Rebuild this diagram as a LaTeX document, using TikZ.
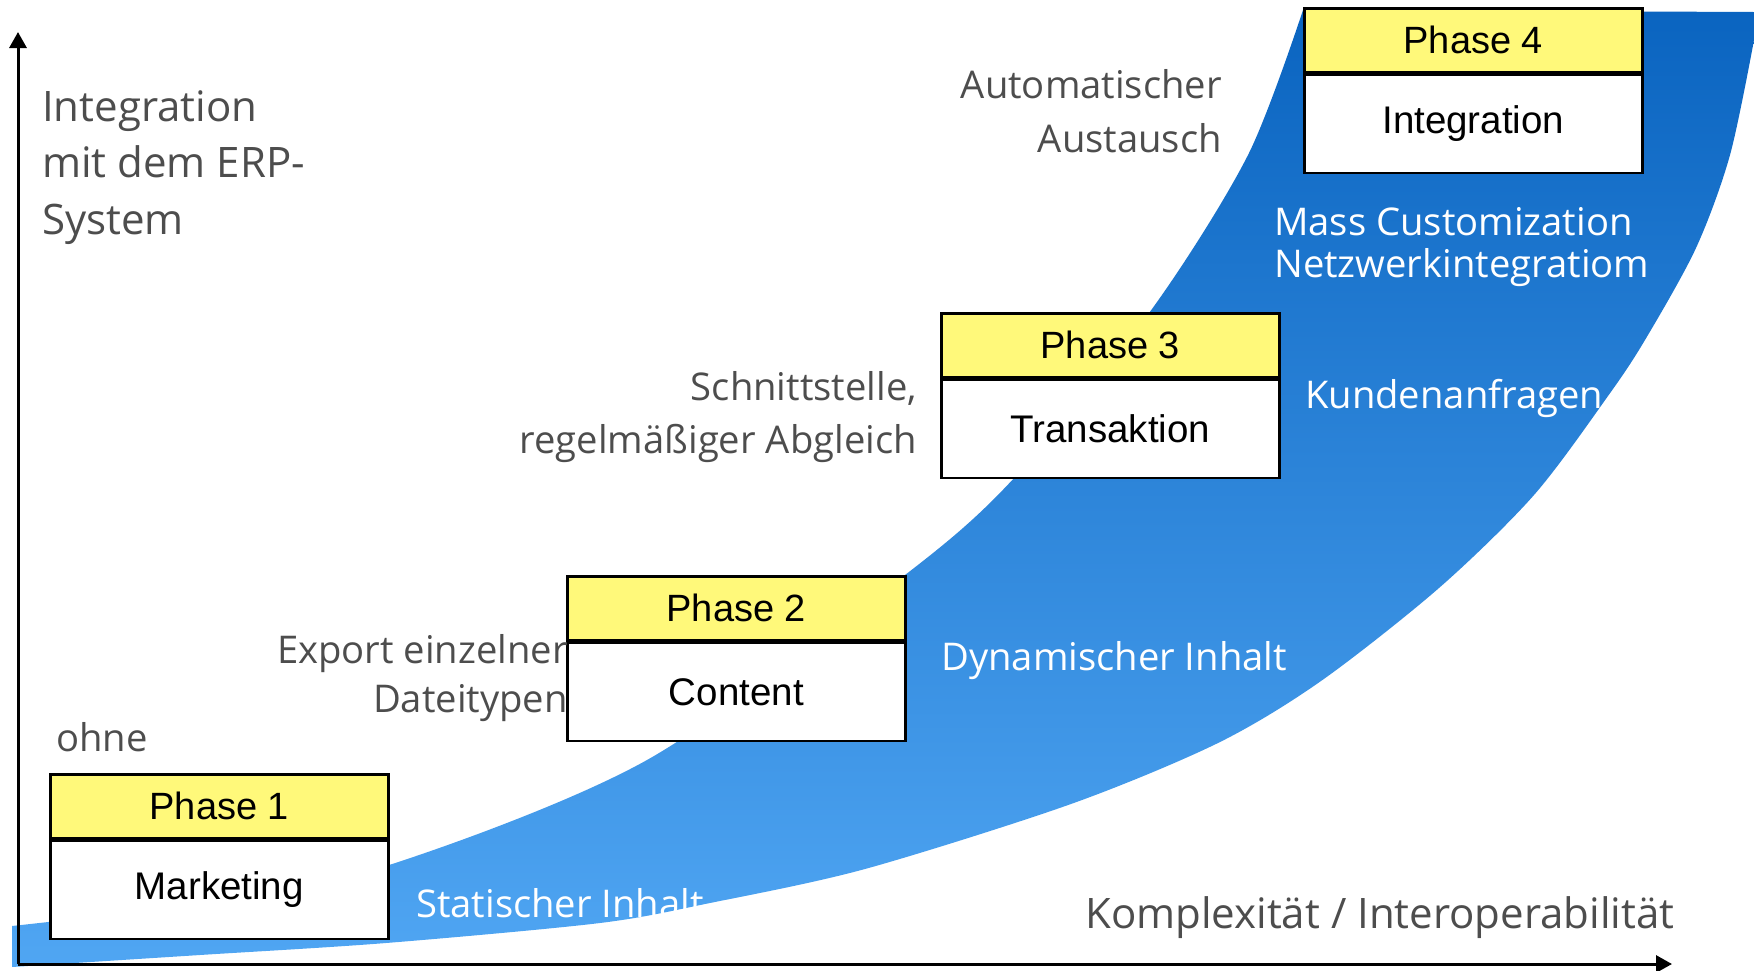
\documentclass[tikz,border=0pt]{standalone}
\usepackage{fontspec}
\usetikzlibrary{arrows.meta,positioning}
\newfontfamily\labelfont{Open Sans}
\newfontfamily\boxfont{Liberation Sans}
\definecolor{labelgray}{RGB}{77,77,77}
\definecolor{phaseyellow}{RGB}{255,249,122}
\definecolor{blueTop}{RGB}{10,100,192}
\definecolor{blueBottom}{RGB}{80,166,243}
\tikzset{
  axisline/.style={line width=3pt, -{Triangle[width=17pt,length=16pt]}},
  phasehead/.style={draw, line width=2.6pt, fill=phaseyellow, minimum width=338pt,
    minimum height=64pt, inner sep=0pt, anchor=north west,
    font=\boxfont\fontsize{38}{40}\selectfont},
  phasebody/.style={draw, line width=2.6pt, fill=white, minimum width=338pt,
    minimum height=98pt, inner sep=0pt, anchor=north,
    font=\boxfont\fontsize{38.5}{40}\selectfont},
  graylabel/.style={inner sep=0pt, text=labelgray, font=\labelfont\fontsize{38.2}{50}\selectfont},
  whitelabel/.style={inner sep=0pt, text=white, font=\labelfont\fontsize{38.2}{50}\selectfont},
  axislabel/.style={inner sep=0pt, text=labelgray, font=\labelfont\fontsize{42}{57}\selectfont},
}
\begin{document}
\begin{tikzpicture}[x=1pt,y=-1pt]
\useasboundingbox (0,0) rectangle (1754,970);

% rising band of growing integration
\shade[top color=blueTop, bottom color=blueBottom]
  plot[smooth, tension=0.5] coordinates {(12,926) (200,903) (386,866) (647,760)
      (905,575) (1016,476) (1152,309) (1248,155) (1303,10)}
  -- (1754,12)
  -- plot[smooth, tension=0.5] coordinates {(1754,40) (1730,155) (1696,248)
      (1645,340) (1608,396) (1534,495) (1439,588) (1321,681) (1218,743)
      (1071,804) (865,869) (710,903) (600,923) (386,943) (200,955) (12,967)}
  -- cycle;

% axes
\coordinate (origin) at (18,964);
\coordinate (ytip) at (18,32);
\coordinate (xtip) at (1672,964);
\draw[axisline] (origin) -- (ytip);
\draw[axisline] (origin) -- (xtip);

% axis labels
\node[axislabel, anchor=base west] (ylab1) at (42,121) {Integration};
\node[axislabel, anchor=base west] (ylab2) at (42,177) {mit dem ERP-};
\node[axislabel, anchor=base west] (ylab3) at (42,234) {System};
\node[axislabel, anchor=base west] (xlab) at (1085,928) {Komplexität / Interoperabilität};

% phase boxes
\node[phasehead] (p1) at (49,773) {Phase 1};
\node[phasebody] (b1) at (p1.south) {Marketing};
\node[phasehead] (p2) at (566,575) {Phase 2};
\node[phasebody] (b2) at (p2.south) {Content};
\node[phasehead] (p3) at (940,312) {Phase 3};
\node[phasebody] (b3) at (p3.south) {Transaktion};
\node[phasehead] (p4) at (1303,7) {Phase 4};
\node[phasebody] (b4) at (p4.south) {Integration};

% degree of integration, left of each phase
\node[graylabel, anchor=base west] (i1) at (56,751) {ohne};
\node[graylabel, anchor=base east] (i2a) at (568,663) {Export einzelner};
\node[graylabel, anchor=base east] (i2b) at (568,712) {Dateitypen};
\node[graylabel, anchor=base east] (i3a) at (917,400) {Schnittstelle,};
\node[graylabel, anchor=base east] (i3b) at (917,453) {regelmäßiger Abgleich};
\node[graylabel, anchor=base east] (i4a) at (1222,98) {Automatischer};
\node[graylabel, anchor=base east] (i4b) at (1222,152) {Austausch};

% content of each phase, on the band
\node[whitelabel, anchor=base west] (c1) at (416,917) {Statischer Inhalt};
\node[whitelabel, anchor=base west] (c2) at (941,670) {Dynamischer Inhalt};
\node[whitelabel, anchor=base west] (c3) at (1305,408) {Kundenanfragen};
\node[whitelabel, anchor=base west] (c4a) at (1274,235) {Mass Customization};
\node[whitelabel, anchor=base west] (c4b) at (1274,277) {Netzwerkintegratiom};
\end{tikzpicture}
\end{document}
